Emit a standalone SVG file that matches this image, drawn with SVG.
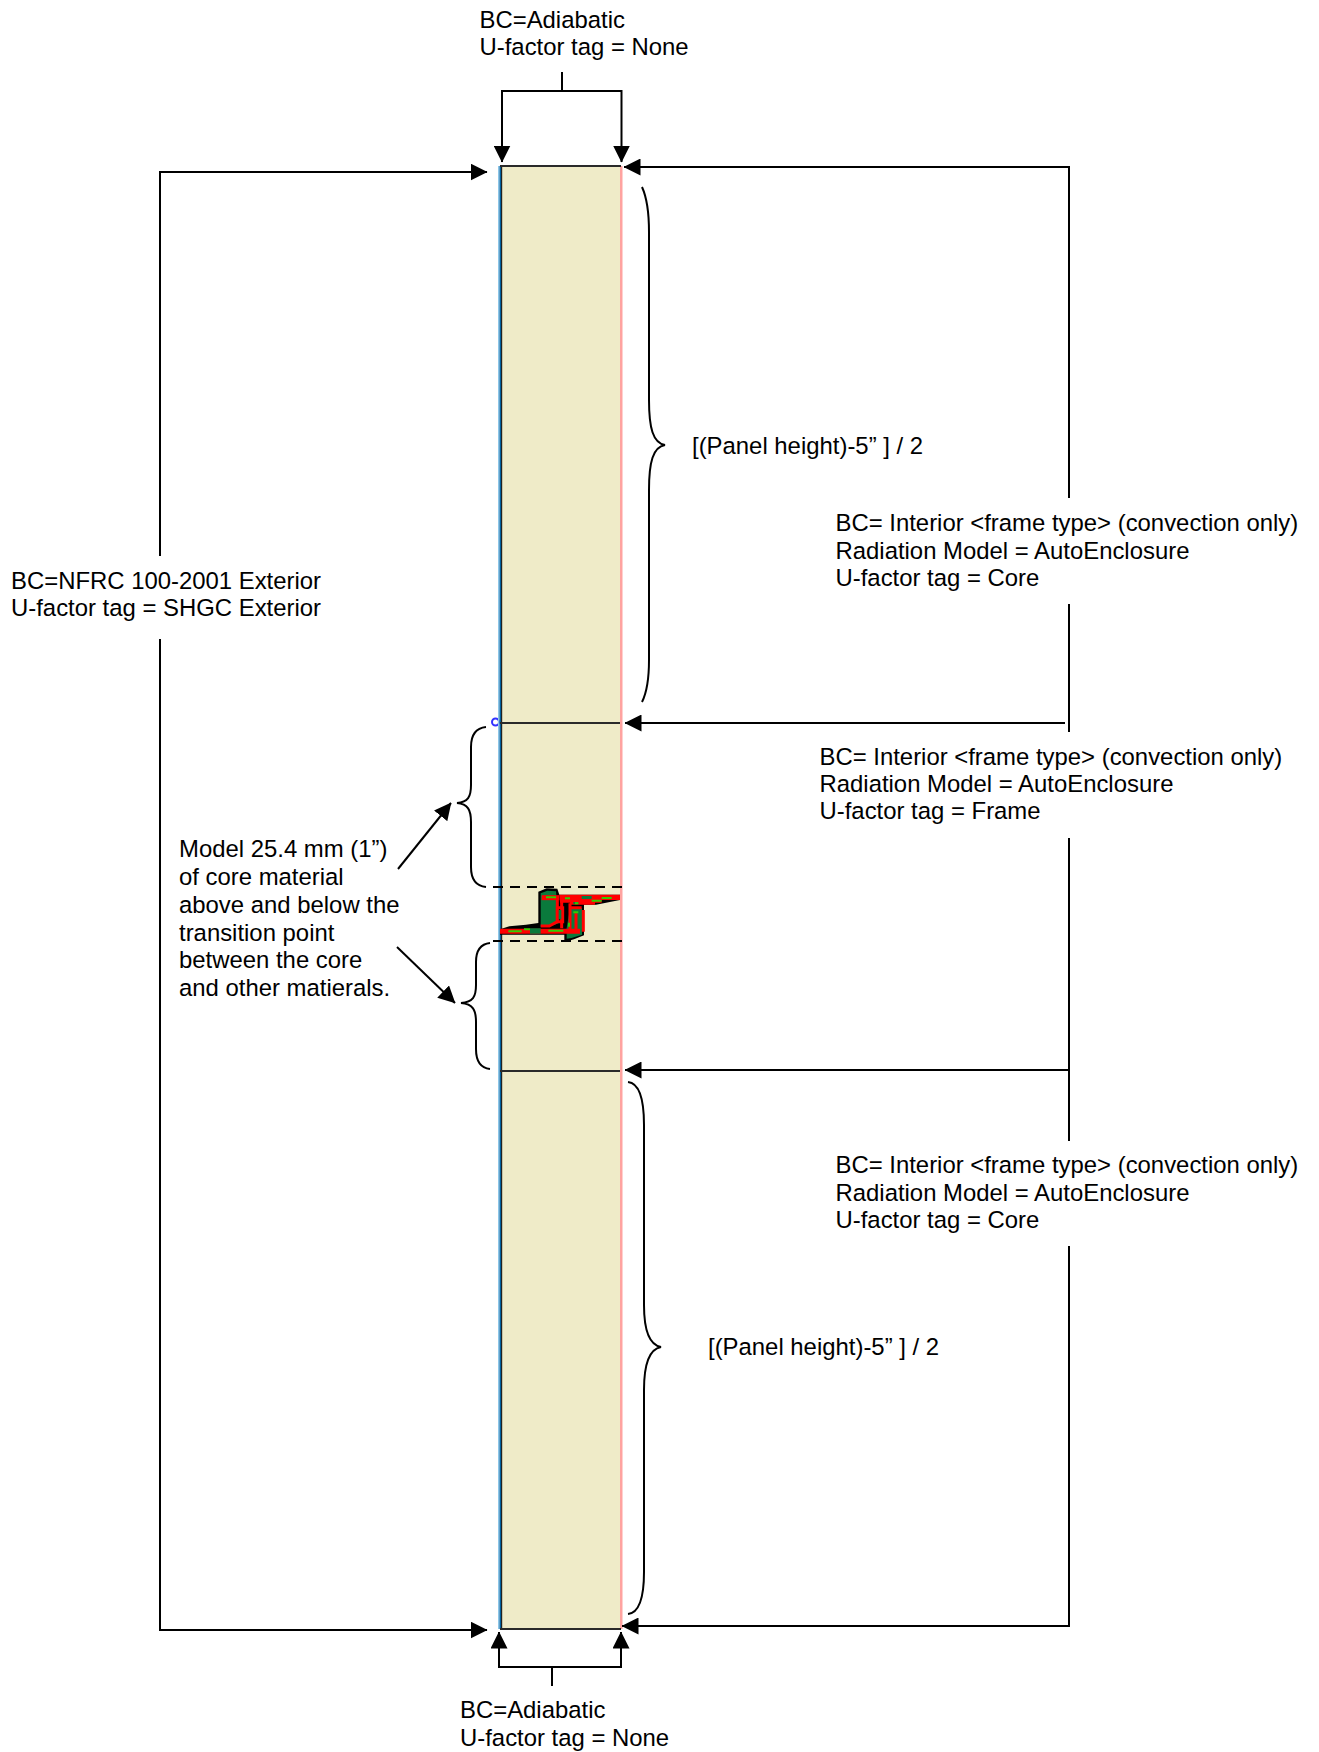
<svg xmlns="http://www.w3.org/2000/svg" width="1319" height="1752" viewBox="0 0 1319 1752">
<defs>
<style>
text{font-family:"Liberation Sans",Arial,sans-serif;font-size:23.9px;fill:#000}
.ln{fill:none;stroke:#000;stroke-width:2}
.br{fill:none;stroke:#000;stroke-width:2}
.ar{fill:none;stroke:#000;stroke-width:2;marker-end:url(#ah)}
.dash{fill:none;stroke:#000;stroke-width:2;stroke-dasharray:10 7}
.sep{stroke:#2a2a2a;stroke-width:2.200}
.red{fill:none;stroke:#f00;stroke-width:15}
.thin{fill:none;stroke:#f00;stroke-width:9}
.lime{fill:none;stroke:#3c0;stroke-width:6}
</style>
<marker id="ah" markerUnits="userSpaceOnUse" markerWidth="17" markerHeight="17" viewBox="0 0 17 17" refX="16.500" refY="8.500" orient="auto"><path d="M0 0L17 8.500L0 17Z" fill="#000"/></marker>
</defs>
<rect width="1319" height="1752" fill="#fff"/>
<g id="marker-point"><circle cx="495.500" cy="722" r="3.500" fill="none" stroke="#33f" stroke-width="2"/></g>
<g id="panel">
<rect x="500" y="166" width="121" height="1463" fill="#efebc8"/>
<rect x="498" y="166" width="1.500" height="1463" fill="#8cc6e8"/>
<rect x="499.500" y="166" width="1.500" height="1463" fill="#005f9e"/>
<rect x="501" y="166" width="1.200" height="1463" fill="#222"/>
<rect x="620" y="166" width="2.500" height="1463" fill="#ffa3a0"/>
<line class="sep" x1="500" y1="166" x2="621" y2="166"/>
<line class="sep" x1="500" y1="723" x2="620" y2="723"/>
<line class="sep" x1="500" y1="1071" x2="620" y2="1071"/>
<line class="sep" x1="500" y1="1629" x2="621" y2="1629"/>
</g>
<g id="transition-detail" transform="translate(470 860) scale(.3333)">
<path d="M90 224V208L118 199L168 194L205 189V95L230 85L262 86L268 104L450 104V120L378 134H342V226L312 238L283 246V224Z" fill="#000"/>
<path d="M212 100L232 92L258 94L266 190L238 200H212Z" fill="#0a7a3c"/>
<path d="M300 145H336V224L305 234L290 236V205Z" fill="#0a7a3c"/>
<path d="M268 104H450V120H395V128H375V134H300V128H270Z" fill="#f00"/>
<path class="red" d="M90 214H330"/>
<path class="red" d="M215 113H268"/>
<path class="thin" d="M262 113V185L238 198H212"/>
<path class="thin" d="M275 115V205M300 130V212M304 143H335M340 150V215M318 160V208"/>
<path class="thin" d="M262 143H278V185H262Z"/>
<path d="M266 150H274V178H266Z" fill="#0a7a3c"/>
<path d="M180 205H212V221H180ZM335 108H365V117H335ZM310 126H325V133H310Z" fill="#0a7a3c"/>
<path class="lime" d="M115 214H155M162 208H180M235 212H280M228 112H258M285 115H300M365 122H395M395 114H425M315 130H325M297 188V200M310 157H325"/>
</g>
<g id="connectors">
<path class="ln" d="M562 72V91M502 91H621.500"/>
<path class="ar" d="M502 90V162"/>
<path class="ar" d="M621.500 90V162"/>
<path class="ln" d="M552 1667V1686M499 1667H621"/>
<path class="ar" d="M499 1668V1632"/>
<path class="ar" d="M621 1668V1632"/>
<path class="ln" d="M160 172V556M160 639V1631"/>
<path class="ar" d="M159 172H487"/>
<path class="ar" d="M159 1630H487"/>
<path class="ln" d="M1069 166V498M1069 604V732M1069 838V1141M1069 1246V1627"/>
<path class="ar" d="M1070 167H624"/>
<path class="ar" d="M1065 723H625"/>
<path class="ar" d="M1069 1070H625"/>
<path class="ar" d="M1070 1626H622"/>
<path class="ar" d="M398 869L451 803"/>
<path class="ar" d="M397 947L455 1003"/>
<path class="dash" d="M493 887H627"/>
<path class="dash" d="M493 941H627"/>
</g>
<g id="braces">
<path class="br" d="M642 187C647 198 649 212 649 232L649 400C649 428 653 443 665 445C653 447 649 462 649 490L649 660C649 680 647 692 642 702"/>
<path class="br" d="M628 1082C638 1083 644 1096 644 1125L644 1305C644 1332 650 1345 661 1347C650 1349 644 1362 644 1390L644 1572C644 1600 638 1613 628 1614"/>
<path class="br" d="M486 727C476 728 471 735 471 747L471 785C471 797 468 802 457 803C468 804 471 810 471 822L471 867C471 880 476 886 486 887"/>
<path class="br" d="M490 943C481 944 476 950 476 962L476 985C476 997 473 1002 461 1003C473 1004 476 1010 476 1022L476 1049C476 1062 481 1068 490 1069"/>
</g>
<g id="label-top"><text x="479.500" y="28">BC=Adiabatic</text><text x="479.500" y="55">U-factor tag = None</text></g>
<g id="label-bottom"><text x="460" y="1718">BC=Adiabatic</text><text x="460" y="1746">U-factor tag = None</text></g>
<g id="label-exterior"><text x="11" y="589">BC=NFRC 100-2001 Exterior</text><text x="11" y="616">U-factor tag = SHGC Exterior</text></g>
<g id="label-core-upper"><text x="835.500" y="531">BC= Interior &lt;frame type&gt; (convection only)</text><text x="835.500" y="559">Radiation Model = AutoEnclosure</text><text x="835.500" y="586">U-factor tag = Core</text></g>
<g id="label-frame"><text x="819.500" y="765">BC= Interior &lt;frame type&gt; (convection only)</text><text x="819.500" y="792">Radiation Model = AutoEnclosure</text><text x="819.500" y="819">U-factor tag = Frame</text></g>
<g id="label-core-lower"><text x="835.500" y="1173">BC= Interior &lt;frame type&gt; (convection only)</text><text x="835.500" y="1201">Radiation Model = AutoEnclosure</text><text x="835.500" y="1228">U-factor tag = Core</text></g>
<g id="label-height-upper"><text x="692" y="454">[(Panel height)-5” ] / 2</text></g>
<g id="label-height-lower"><text x="708" y="1355">[(Panel height)-5” ] / 2</text></g>
<g id="label-model"><text x="179" y="857">Model 25.4 mm (1”)</text><text x="179" y="885">of core material</text><text x="179" y="913">above and below the</text><text x="179" y="941">transition point</text><text x="179" y="968">between the core</text><text x="179" y="996">and other matierals.</text></g>
</svg>
